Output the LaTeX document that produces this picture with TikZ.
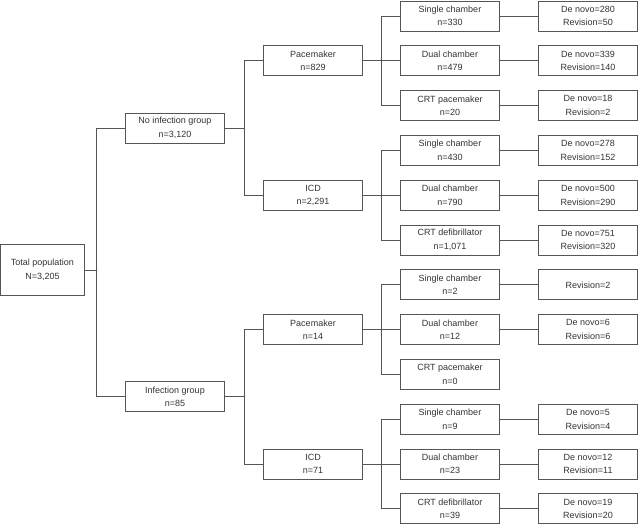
\documentclass[tikz,border=0pt]{standalone}
\usepackage{fontspec}
\setmainfont{Liberation Sans}
\usepackage{xcolor}
\definecolor{linegray}{HTML}{555555}
\definecolor{textgray}{HTML}{333333}

\begin{document}
\begin{tikzpicture}[x=1pt,y=-1pt,line cap=round,
  font=\fontsize{9}{13.5}\selectfont,
  box/.style={draw=linegray,line width=0.9pt,text=textgray,align=center,
    minimum width=99pt,minimum height=30pt,inner sep=1pt},
  wire/.style={draw=linegray,line width=0.9pt}]
\useasboundingbox (0,0) rectangle (638,525);
% root and groups
\node[box,minimum width=84pt,minimum height=51pt] (total) at (42.5,270) {Total population\\N=3,205};
\node[box] (noinf) at (175,128) {No infection group\\n=3,120};
\node[box] (inf) at (175,396.8) {Infection group\\n=85};
% devices
\node[box] (pm1) at (313,60.8) {Pacemaker\\n=829};
\node[box] (icd1) at (313,195.2) {ICD\\n=2,291};
\node[box] (pm2) at (313,329.6) {Pacemaker\\n=14};
\node[box] (icd2) at (313,464) {ICD\\n=71};
% device types
\node[box] (sc1) at (450,16) {Single chamber\\n=330};
\node[box] (dc1) at (450,60.8) {Dual chamber\\n=479};
\node[box] (crt1) at (450,105.6) {CRT pacemaker\\n=20};
\node[box] (sc2) at (450,150.4) {Single chamber\\n=430};
\node[box] (dc2) at (450,195.2) {Dual chamber\\n=790};
\node[box] (crt2) at (450,240) {CRT defibrillator\\n=1,071};
\node[box] (sc3) at (450,284.8) {Single chamber\\n=2};
\node[box] (dc3) at (450,329.6) {Dual chamber\\n=12};
\node[box] (crt3) at (450,374.4) {CRT pacemaker\\n=0};
\node[box] (sc4) at (450,419.2) {Single chamber\\n=9};
\node[box] (dc4) at (450,464) {Dual chamber\\n=23};
\node[box] (crt4) at (450,508.8) {CRT defibrillator\\n=39};
% outcomes
\node[box] (o1) at (588,16) {De novo=280\\Revision=50};
\node[box] (o2) at (588,60.8) {De novo=339\\Revision=140};
\node[box] (o3) at (588,105.6) {De novo=18\\Revision=2};
\node[box] (o4) at (588,150.4) {De novo=278\\Revision=152};
\node[box] (o5) at (588,195.2) {De novo=500\\Revision=290};
\node[box] (o6) at (588,240) {De novo=751\\Revision=320};
\node[box] (o7) at (588,284.8) {Revision=2};
\node[box] (o8) at (588,329.6) {De novo=6\\Revision=6};
\node[box] (o10) at (588,419.2) {De novo=5\\Revision=4};
\node[box] (o11) at (588,464) {De novo=12\\Revision=11};
\node[box] (o12) at (588,508.8) {De novo=19\\Revision=20};
% connectors
\draw[wire] (total.east) -- ++(12,0);
\draw[wire] (noinf.west) -- ++(-29,0) |- (inf.west);
\draw[wire] (noinf.east) -- ++(19.5,0);
\draw[wire] (inf.east) -- ++(19.5,0);
\draw[wire] (pm1.west) -- ++(-19,0) |- (icd1.west);
\draw[wire] (pm2.west) -- ++(-19,0) |- (icd2.west);
\draw[wire] (pm1.east) -- (dc1.west);
\draw[wire] (icd1.east) -- (dc2.west);
\draw[wire] (pm2.east) -- (dc3.west);
\draw[wire] (icd2.east) -- (dc4.west);
\draw[wire] (sc1.west) -- ++(-19,0) |- (crt1.west);
\draw[wire] (sc2.west) -- ++(-19,0) |- (crt2.west);
\draw[wire] (sc3.west) -- ++(-19,0) |- (crt3.west);
\draw[wire] (sc4.west) -- ++(-19,0) |- (crt4.west);
\foreach \a/\b in {sc1/o1,dc1/o2,crt1/o3,sc2/o4,dc2/o5,crt2/o6,sc3/o7,dc3/o8,sc4/o10,dc4/o11,crt4/o12}
  \draw[wire] (\a.east) -- (\b.west);
\end{tikzpicture}
\end{document}
